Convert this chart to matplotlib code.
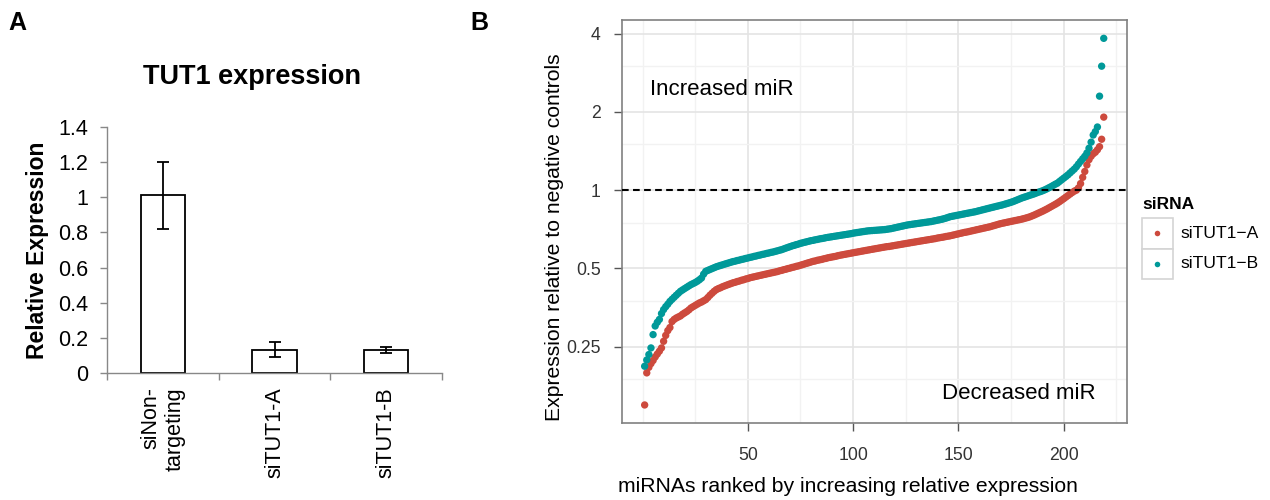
import matplotlib
matplotlib.use('Agg')
import matplotlib.pyplot as plt
from matplotlib.patches import Rectangle
from matplotlib.lines import Line2D
import numpy as np

plt.rcParams['font.family'] = ['Liberation Sans', 'DejaVu Sans']

# panel A: qPCR of TUT1
groups = ['siNon-\ntargeting', 'siTUT1-A', 'siTUT1-B']
rel_expr = [1.01, 0.133, 0.133]
rel_err = [0.19, 0.042, 0.019]

# panel B: miRNAs ranked by relative expression
sirna_names = ['siTUT1\u2212A', 'siTUT1\u2212B']
sirna_colors = ['#CD4A3D', '#009999']

expr_a = [
    0.149, 0.198, 0.208, 0.215, 0.221, 0.228, 0.234, 0.240, 0.247, 0.262,
    0.276, 0.288, 0.296, 0.312, 0.318, 0.322, 0.325, 0.328, 0.333, 0.337,
    0.341, 0.346, 0.352, 0.356, 0.360, 0.364, 0.368, 0.371, 0.375, 0.379,
    0.386, 0.394, 0.401, 0.408, 0.414, 0.418, 0.421, 0.425, 0.428, 0.431,
    0.434, 0.437, 0.440, 0.442, 0.445, 0.447, 0.450, 0.452, 0.455, 0.457,
    0.460, 0.462, 0.464, 0.466, 0.468, 0.470, 0.472, 0.474, 0.476, 0.478,
    0.480, 0.482, 0.484, 0.486, 0.489, 0.491, 0.494, 0.496, 0.499, 0.501,
    0.504, 0.506, 0.509, 0.511, 0.514, 0.517, 0.520, 0.523, 0.526, 0.529,
    0.532, 0.534, 0.537, 0.539, 0.541, 0.544, 0.546, 0.549, 0.551, 0.553,
    0.555, 0.557, 0.560, 0.562, 0.564, 0.566, 0.568, 0.570, 0.572, 0.574,
    0.576, 0.578, 0.580, 0.582, 0.584, 0.586, 0.588, 0.590, 0.592, 0.594,
    0.596, 0.598, 0.600, 0.602, 0.604, 0.606, 0.607, 0.609, 0.611, 0.613,
    0.615, 0.617, 0.619, 0.621, 0.623, 0.625, 0.627, 0.629, 0.631, 0.633,
    0.635, 0.637, 0.639, 0.641, 0.643, 0.645, 0.647, 0.649, 0.651, 0.654,
    0.656, 0.658, 0.660, 0.663, 0.665, 0.667, 0.670, 0.673, 0.676, 0.679,
    0.682, 0.685, 0.688, 0.690, 0.693, 0.696, 0.699, 0.702, 0.705, 0.708,
    0.711, 0.714, 0.717, 0.720, 0.723, 0.727, 0.731, 0.735, 0.739, 0.743,
    0.746, 0.749, 0.752, 0.755, 0.758, 0.761, 0.764, 0.767, 0.770, 0.773,
    0.777, 0.781, 0.785, 0.790, 0.796, 0.802, 0.809, 0.816, 0.823, 0.830,
    0.838, 0.846, 0.855, 0.864, 0.873, 0.882, 0.892, 0.903, 0.915, 0.927,
    0.940, 0.953, 0.966, 0.979, 0.991, 1.000, 1.020, 1.060, 1.120, 1.180,
    1.250, 1.310, 1.350, 1.380, 1.400, 1.430, 1.470, 1.570, 1.910,
]
expr_b = [
    0.210, 0.222, 0.233, 0.247, 0.278, 0.300, 0.310, 0.318, 0.335, 0.347,
    0.356, 0.364, 0.373, 0.380, 0.387, 0.394, 0.401, 0.408, 0.413, 0.418,
    0.423, 0.428, 0.433, 0.437, 0.441, 0.446, 0.452, 0.459, 0.475, 0.487,
    0.491, 0.495, 0.499, 0.503, 0.507, 0.510, 0.513, 0.516, 0.519, 0.522,
    0.525, 0.528, 0.531, 0.533, 0.536, 0.538, 0.541, 0.543, 0.546, 0.548,
    0.551, 0.553, 0.556, 0.558, 0.561, 0.563, 0.566, 0.568, 0.571, 0.573,
    0.576, 0.578, 0.581, 0.584, 0.587, 0.590, 0.594, 0.598, 0.602, 0.606,
    0.610, 0.613, 0.617, 0.620, 0.624, 0.627, 0.630, 0.633, 0.636, 0.639,
    0.641, 0.644, 0.646, 0.649, 0.651, 0.653, 0.656, 0.658, 0.660, 0.662,
    0.664, 0.666, 0.668, 0.670, 0.672, 0.674, 0.676, 0.678, 0.680, 0.683,
    0.685, 0.687, 0.689, 0.691, 0.693, 0.695, 0.697, 0.698, 0.699, 0.700,
    0.701, 0.702, 0.703, 0.704, 0.705, 0.707, 0.709, 0.711, 0.714, 0.717,
    0.720, 0.723, 0.726, 0.729, 0.732, 0.735, 0.737, 0.739, 0.741, 0.743,
    0.745, 0.747, 0.749, 0.751, 0.753, 0.755, 0.757, 0.760, 0.763, 0.766,
    0.769, 0.772, 0.776, 0.780, 0.785, 0.790, 0.793, 0.796, 0.799, 0.802,
    0.805, 0.808, 0.811, 0.814, 0.817, 0.820, 0.823, 0.826, 0.830, 0.834,
    0.838, 0.842, 0.846, 0.850, 0.854, 0.858, 0.862, 0.866, 0.870, 0.874,
    0.878, 0.883, 0.888, 0.893, 0.898, 0.904, 0.911, 0.918, 0.925, 0.932,
    0.938, 0.944, 0.950, 0.956, 0.962, 0.968, 0.975, 0.982, 0.988, 0.995,
    1.003, 1.012, 1.022, 1.032, 1.043, 1.054, 1.064, 1.080, 1.096, 1.112,
    1.128, 1.145, 1.165, 1.185, 1.205, 1.230, 1.260, 1.290, 1.320, 1.350,
    1.390, 1.450, 1.530, 1.630, 1.680, 1.750, 2.300, 3.000, 3.840,
]
rank = np.arange(1, len(expr_a) + 1)

W, H = 1270, 500


def fx(x):
    return x / W


def fy(y):
    return 1 - y / H


fig = plt.figure(figsize=(12.7, 5.0), dpi=100)

# ---------------- panel A ----------------
ax1 = fig.add_axes([fx(107.3), fy(373.3), fx(441.7 - 107.3), (373.3 - 126.7) / H])
xpos = np.arange(len(groups))
ax1.bar(xpos, rel_expr, width=0.4, color='white', edgecolor='black', linewidth=1.3, zorder=2)
ax1.errorbar(xpos, rel_expr, yerr=rel_err, fmt='none', ecolor='black', elinewidth=1.3,
             capsize=4, capthick=1.3, zorder=3)
ax1.set_xlim(-0.5, 2.5)
ax1.set_ylim(0, 1.4)
ax1.set_yticks([0, 0.2, 0.4, 0.6, 0.8, 1.0, 1.2, 1.4])
ax1.set_yticklabels(['0', '0.2', '0.4', '0.6', '0.8', '1', '1.2', '1.4'])
ax1.set_xticks(xpos)
ax1.set_xticklabels(groups, rotation=90, va='top', ha='center', multialignment='right')
ax1.set_xticks([-0.5, 0.5, 1.5, 2.5], minor=True)
ax1.tick_params(axis='x', which='major', length=0, pad=10, labelsize=15.5)
ax1.tick_params(axis='x', which='minor', length=5, width=1, color='#888888', direction='out')
ax1.tick_params(axis='y', length=5, width=1, color='#888888', pad=9, labelsize=15.5)
for s in ['top', 'right']:
    ax1.spines[s].set_visible(False)
for s in ['left', 'bottom']:
    ax1.spines[s].set_color('#888888')
    ax1.spines[s].set_linewidth(1.0)

fig.text(fx(8), fy(23), 'A', fontsize=18, fontweight='bold', ha='left', va='center')
fig.text(fx(251.7), fy(76.7), 'TUT1 expression', fontsize=19.5, fontweight='bold', ha='center', va='center')
fig.text(fx(38), fy(250), 'Relative Expression', fontsize=16.5, fontweight='bold',
         rotation=90, ha='center', va='center')

# ---------------- panel B ----------------
ax2 = fig.add_axes([fx(621.7), fy(423.3), fx(1126.7 - 621.7), (423.3 - 20) / H])
ax2.set_yscale('log', base=2)
ax2.scatter(rank, expr_a, s=28, color=sirna_colors[0], edgecolors='none', zorder=3)
ax2.scatter(rank, expr_b, s=28, color=sirna_colors[1], edgecolors='none', zorder=3)
ax2.margins(x=0.05, y=0.05)
ax2.axhline(1, color='black', linewidth=1.5, linestyle=(0, (3.2, 2.1)), zorder=4)

ax2.set_yticks([0.25, 0.5, 1, 2, 4])
ax2.set_yticklabels(['0.25', '0.5', '1', '2', '4'])
ax2.set_yticks([0.1875, 0.375, 0.75, 1.5, 3], minor=True)
ax2.set_xticks([50, 100, 150, 200])
ax2.set_xticks([0, 25, 75, 125, 175, 225], minor=True)
ax2.tick_params(which='minor', length=0)
ax2.tick_params(which='major', length=6, width=1, color='#555555', labelsize=12.7,
                labelcolor='#333333')
ax2.tick_params(axis='y', pad=9)
ax2.tick_params(axis='x', pad=11)
ax2.grid(which='major', color='#e4e4e4', linewidth=1.2)
ax2.grid(which='minor', color='#f2f2f2', linewidth=1.0)
ax2.set_axisbelow(True)
for s in ax2.spines.values():
    s.set_color('#808080')
    s.set_linewidth(1.2)

ax2.text(3.6, 2.43, 'Increased miR', fontsize=16, ha='left', va='center')
ax2.text(215.2, 0.165, 'Decreased miR', fontsize=16, ha='right', va='center')

fig.text(fx(470), fy(23), 'B', fontsize=18, fontweight='bold', ha='left', va='center')
fig.text(fx(848), fy(486), 'miRNAs ranked by increasing relative expression', fontsize=15.2,
         ha='center', va='center')
fig.text(fx(554), fy(237.5), 'Expression relative to negative controls', fontsize=15.2,
         rotation=90, ha='center', va='center')

# legend
fig.text(fx(1142.7), fy(205), 'siRNA', fontsize=12.5, fontweight='bold', ha='left', va='center')
for i, (name, col) in enumerate(zip(sirna_names, sirna_colors)):
    top = 218 + i * 30.7
    fig.patches.append(Rectangle((fx(1142), fy(top + 30.7)), fx(30.7), 30.7 / H,
                                 transform=fig.transFigure, facecolor='white',
                                 edgecolor='#d4d4d4', linewidth=1.2))
    fig.add_artist(Line2D([fx(1157.3)], [fy(top + 15.3)], marker='o', markersize=4,
                          color=col, markeredgewidth=0, transform=fig.transFigure))
    fig.text(fx(1180.7), fy(top + 15.3), name, fontsize=12.6, ha='left', va='center')

fig.savefig('out.png', dpi=100)
